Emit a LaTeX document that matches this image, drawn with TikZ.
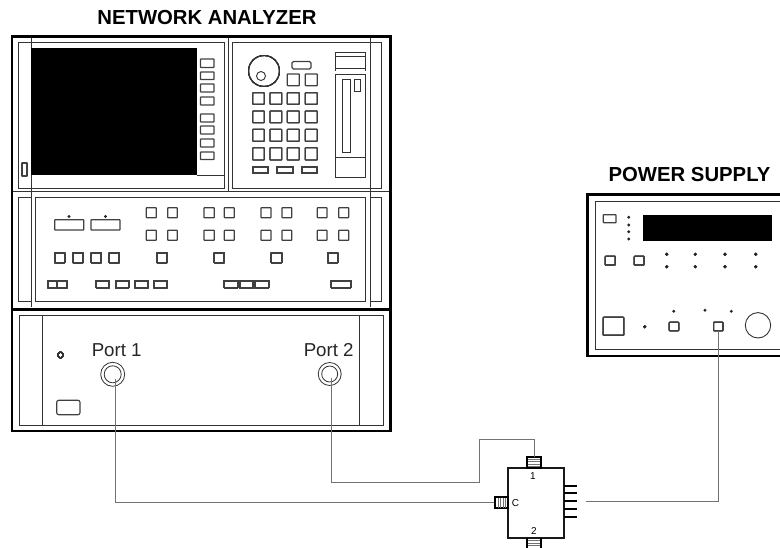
\documentclass[tikz,border=0pt]{standalone}
\usepackage{fontspec}
\setmainfont{Liberation Sans}
\tikzset{
  thinline/.style={draw=black!80,line width=0.9pt},
  keyline/.style={draw=black!75,line width=1.15pt,rounded corners=0.5pt},
  frameline/.style={draw=black,line width=2.8pt},
  wire/.style={draw=black!55,line width=0.9pt},
  bodyline/.style={draw=black!90,line width=1.9pt},
  pinline/.style={draw=black,line width=1.9pt},
  stripe/.style={draw=black!55,line width=1pt},
  heading/.style={font=\bfseries\fontsize{20.3}{22}\selectfont,anchor=base,inner sep=0pt},
  portlabel/.style={font=\fontsize{18.7}{20}\selectfont,anchor=base,inner sep=0pt,text=black!85},
  tinylabel/.style={font=\fontsize{10}{11}\selectfont,inner sep=0pt},
  ring/.style={circle,draw=black!80,line width=0.8pt,inner sep=0pt,fill=white},
  connector/.style={rectangle,draw=black,line width=1.8pt,inner sep=0pt,fill=white}
}
\newcommand{\kbox}[4]{\draw[keyline] (#1,#2) rectangle (#3,#4);}
\newcommand{\tbox}[4]{\draw[thinline] (#1,#2) rectangle (#3,#4);}
\newcommand{\tdot}[2]{\fill[black!85] (#1,#2) circle (1.6);}
\begin{document}
\begin{tikzpicture}[x=1pt,y=-1pt]
\useasboundingbox (0,0) rectangle (780,548);
% titles
\node[heading] (natitle) at (207,25) {NETWORK ANALYZER};
\node[heading] (pstitle) at (689.5,182) {POWER SUPPLY};
% Network analyzer frames
\tbox{18}{42}{224}{188}
\tbox{232}{42}{381}{188}
\draw[thinline] (228,37)--(228,191);
\tbox{35}{197}{365}{301}
\tbox{18}{197}{31}{301}
\tbox{370}{197}{381}{301}
\draw[thinline] (12,191.5)--(390,191.5);
\draw[thinline] (31,37)--(31,307);
\draw[thinline] (370,37)--(370,307);
\draw[frameline] (12,36.5) rectangle (390.5,431);
\draw[frameline] (12,309.5)--(390.5,309.5);
\tbox{19}{315}{383}{425}
\draw[thinline] (42,315)--(42,425);
\draw[thinline] (359,315)--(359,425);
% screen
\fill[black] (31,48) rectangle (196.5,175);
\draw[thinline] (196.5,175)--(224,175);
\foreach \a/\b in {59/67.5,72/79.5,84/92,97/105,114/122,126/134,139/147,152/159.5}
  \kbox{200.5}{\a}{214}{\b}
\kbox{22}{163}{27}{176}
% right panel
\draw[thinline] (264,71) circle (15.5);
\draw[thinline] (261,76) circle (4.5);
\draw[keyline,rounded corners=1.5pt] (292,61.5) rectangle (311,69);
\foreach \xa/\xb in {287.3/299.3,305.3/317.3} \kbox{\xa}{74}{\xb}{85.7}
\foreach \ya/\yb in {92.7/104.3,111/122.7,129.3/141.3,147.7/160}
  \foreach \xa/\xb in {252.7/264.3,270/281.7,287.3/299.3,305.3/317.3}
    \kbox{\xa}{\ya}{\xb}{\yb}
\foreach \xa/\xb in {252.7/268.3,277/293.3,301.7/316.7} \kbox{\xa}{166.7}{\xb}{173.3}
\draw[thinline] (335.7,71)--(335.7,52.3)--(365.7,52.3)--(365.7,71);
\draw[thinline] (335.7,56.7)--(365.7,56.7);
\draw[thinline] (335.7,68)--(365.7,68);
\tbox{335.7}{74.7}{365.7}{177.3}
\draw[thinline] (335.7,157.3)--(365.7,157.3);
\tbox{342.7}{79.3}{350.7}{152.3}
\tbox{354.7}{79.3}{360.3}{91}
% middle panel
\kbox{54.7}{219.7}{83.7}{230}
\kbox{91}{219.7}{120}{230}
\tdot{69}{216.5}
\tdot{105.5}{216.5}
\foreach \ya/\yb in {207.7/217.7,230.3/240.3}
  \foreach \xa/\xb in {146.3/156.3,167.7/177.3,204/214.3,224.3/234.3,261/271,282/291.7,317.3/327,338.7/348.7}
    \kbox{\xa}{\ya}{\xb}{\yb}
\foreach \xa/\xb in {54.7/64.7,73/83,91.3/101.3,109.3/119.3,157/167,214.3/224.3,271.3/281.7,327.7/337.7}
  \kbox{\xa}{252.7}{\xb}{262.7}
\foreach \xa/\xb in {48/57.3,57.3/67,96.3/109,115.7/128.7,135/148,154/167,224.3/237.7,239.7/253.3,255/268.7,331.3/350.7}
  \kbox{\xa}{280.7}{\xb}{287.7}
% lower panel
\draw[thinline] (60.5,355) circle (2.8);
\draw[keyline,rounded corners=2pt] (56.7,400.3) rectangle (80,414.7);
\node[portlabel] (p1label) at (116.7,356.8) {Port 1};
\node[portlabel] (p2label) at (328.7,357) {Port 2};
\node[ring,minimum size=24pt] (port1) at (112.7,374.3) {};
\node[ring,minimum size=17pt] (port1in) at (112.7,374.3) {};
\node[ring,minimum size=23pt] (port2) at (329.7,374) {};
\node[ring,minimum size=16pt] (port2in) at (329.7,374) {};
\coordinate (p1out) at (115,379);
\coordinate (p2out) at (331.7,378);
% Power supply
\draw[frameline] (780,194.8)--(587.8,194.8)--(587.8,356)--(780,356);
\draw[thinline] (780,201.7)--(595,201.7)--(595,349)--(780,349);
\fill[black] (643,215.3) rectangle (772.3,240.7);
\kbox{603.3}{214.7}{616}{222.7}
\foreach \y in {217.3,225,231.7,239} \tdot{628.7}{\y}
\kbox{605.3}{256.3}{615.3}{265}
\kbox{634.3}{256.3}{644}{265}
\foreach \x in {666.7,695.3,725,755.7} {\tdot{\x}{254.3}\tdot{\x}{266.7}}
\kbox{603.3}{317.3}{623.7}{335.3}
\tdot{644.7}{326.7}
\kbox{669.3}{322.3}{678.7}{330.7}
\node[rectangle,keyline,inner sep=0pt,minimum width=9.3pt,minimum height=8.4pt] (pskey) at (718.3,326.5) {};
\draw[thinline] (758,325.3) circle (12.7);
\tdot{673.7}{311.3}\tdot{705}{310.3}\tdot{731.3}{311.3}
% coupler
\node[rectangle,bodyline,inner sep=0pt,minimum width=56pt,minimum height=70pt] (coupler) at (536,503) {};
\node[connector,minimum width=14pt,minimum height=11.3pt] (conn1) at (533.7,462.3) {};
\node[connector,minimum width=13pt,minimum height=11pt] (connC) at (501.5,502.5) {};
\draw[line width=1.8pt] (526.7,548)--(526.7,538) (540.7,548)--(540.7,538);
\foreach \y in {459,461.5,464,466.5} \draw[stripe] (527.5,\y)--(540,\y);
\foreach \y in {540.5,543,545.5} \draw[stripe] (527.5,\y)--(540,\y);
\foreach \x in {498,500.5,503,505.5} \draw[stripe] (\x,497.5)--(\x,507.5);
\node[tinylabel] (lab1) at (533,476) {1};
\node[tinylabel] (lab2) at (534,531) {2};
\node[tinylabel] (labC) at (515.5,503) {C};
\foreach \y in {485.7,493.3,501,508.7,516.7} \draw[pinline] (564,\y)--(577,\y);
% wires
\coordinate (psfree) at (585.7,501);
\draw[wire] (p1out) |- (connC.west);
\draw[wire] (p2out) -- (331.7,482) -- (479,482) -- (479,439) -- (534,439) -- (534,456.7);
\draw[wire] (psfree) -- (718,501) -- (718,330.7);
\end{tikzpicture}
\end{document}
